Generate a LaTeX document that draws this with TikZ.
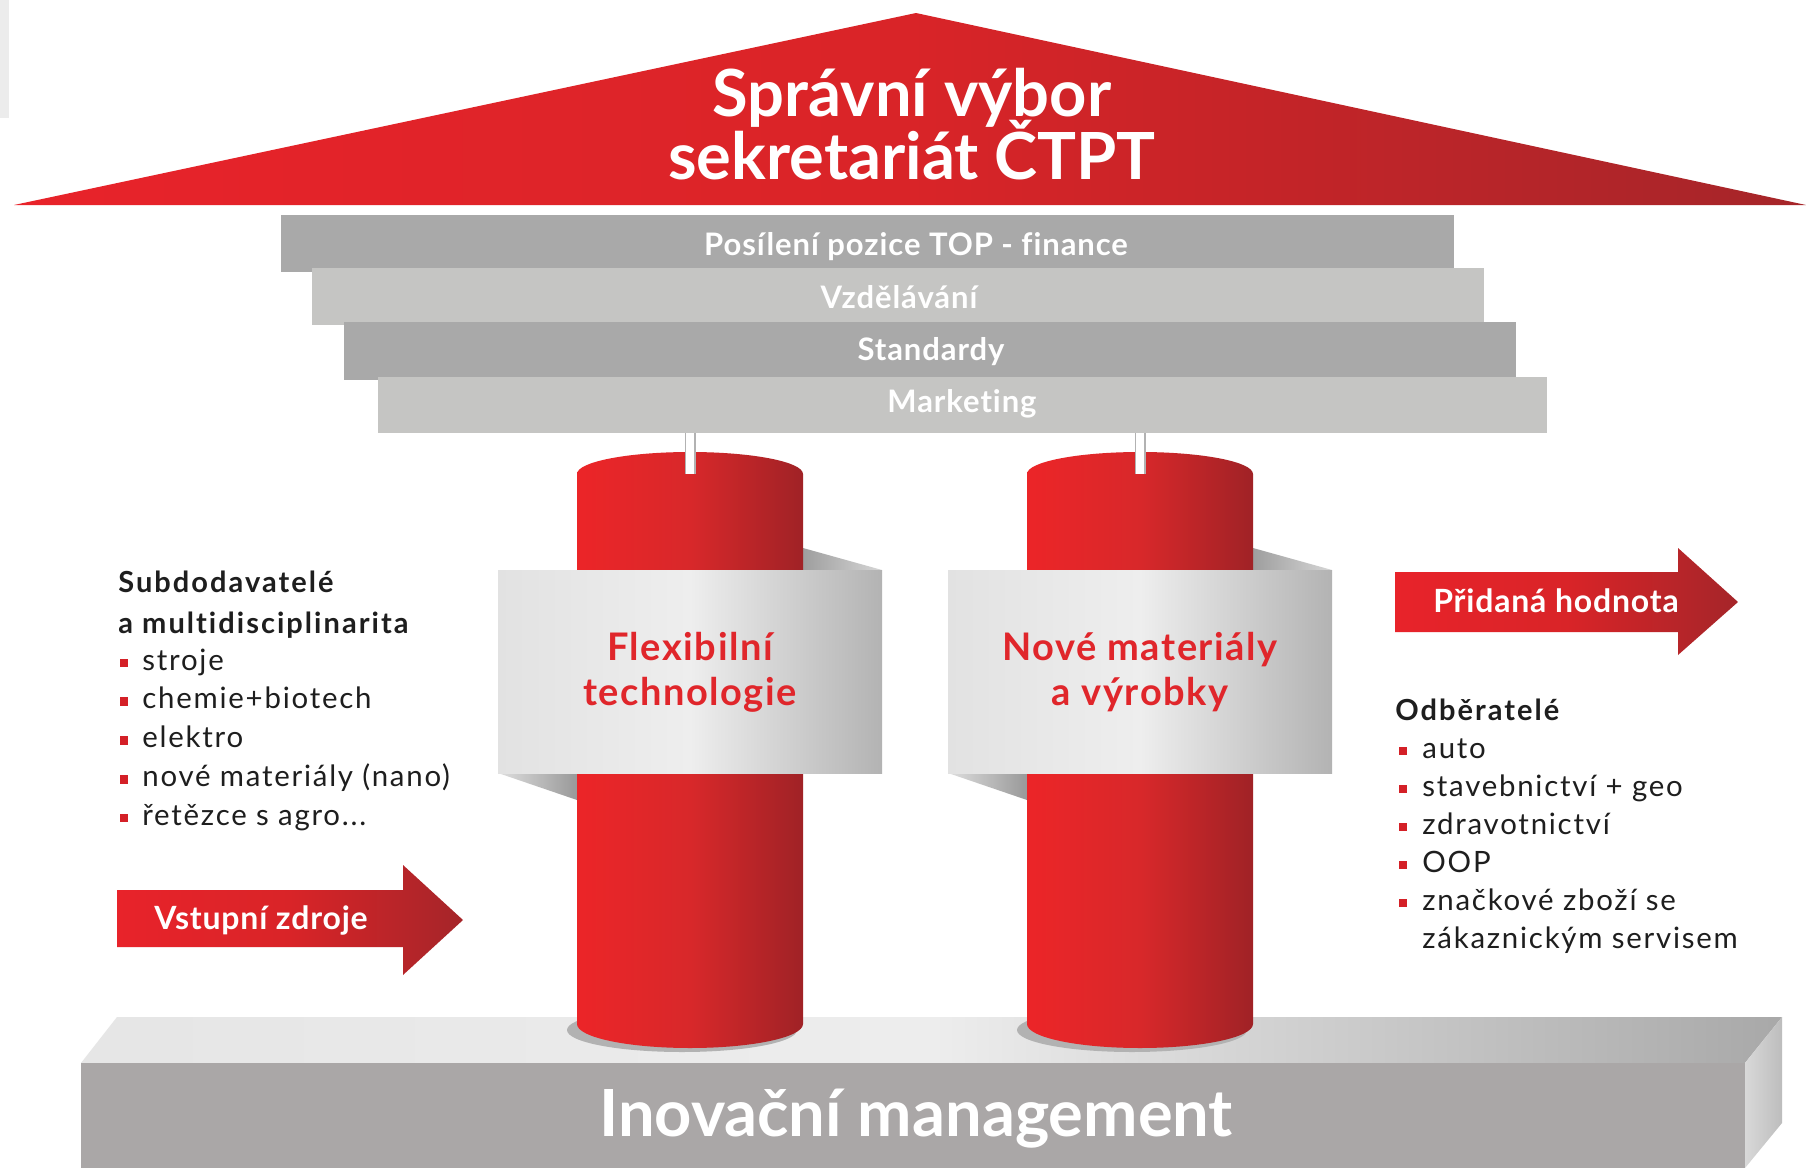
\documentclass[tikz,border=0pt]{standalone}
\usepackage{fontspec}
\setmainfont{Lato}[Ligatures=NoCommon]
\newfontfamily\fTitle{Lato}[Ligatures=NoCommon]
\newfontfamily\fBar{Lato}[Ligatures=NoCommon, LetterSpace=3]
\newfontfamily\fCol{Lato}[Ligatures=NoCommon, LetterSpace=4]
\newfontfamily\fArr{Lato}[Ligatures=NoCommon, LetterSpace=2.5]
\newfontfamily\fList{Lato}[Ligatures=NoCommon, LetterSpace=6]
\newfontfamily\fHead{Lato}[Ligatures=NoCommon, LetterSpace=7]
\definecolor{rA}{HTML}{E8232A}
\definecolor{rB}{HTML}{D92428}
\definecolor{rC}{HTML}{A52529}
\definecolor{cyA}{HTML}{EC2528}
\definecolor{cyB}{HTML}{D8282A}
\definecolor{cyC}{HTML}{A02226}
\definecolor{txtred}{HTML}{E0262B}
\definecolor{bulred}{HTML}{D42027}
\definecolor{barD}{HTML}{A9A9A9}
\definecolor{barL}{HTML}{C5C5C3}
\definecolor{baseF}{HTML}{AAA7A7}
\definecolor{ink}{HTML}{1E1E1E}
\definecolor{bandA}{HTML}{E2E2E2}
\definecolor{bandB}{HTML}{EEEEEE}
\definecolor{bandC}{HTML}{B3B3B3}
\tikzset{
  titletxt/.style={text=white, font=\fTitle\bfseries\fontsize{32.5}{36}\selectfont, anchor=base, inner sep=0pt},
  bartxt/.style={text=white, font=\fBar\bfseries\fontsize{15.5}{17}\selectfont, anchor=base, inner sep=0pt},
  coltxt/.style={text=txtred, font=\fCol\bfseries\fontsize{19}{22}\selectfont, anchor=base, inner sep=0pt},
  arrtxt/.style={text=white, font=\fArr\bfseries\fontsize{16}{18}\selectfont, anchor=base, inner sep=0pt},
  headtxt/.style={text=ink, font=\fHead\bfseries\fontsize{14.5}{16}\selectfont, anchor=base west, inner sep=0pt},
  itemtxt/.style={text=ink, font=\fList\fontsize{14.7}{16}\selectfont, anchor=base west, inner sep=0pt},
  bulsq/.style={rectangle, fill=bulred, minimum size=4.3pt, inner sep=0pt},
  basetxt/.style={text=white, font=\fTitle\bfseries\fontsize{32.5}{36}\selectfont, anchor=base, inner sep=0pt},
  redshade/.style={left color=rA, right color=rC, middle color=rB},
  cylshade/.style={left color=cyA, right color=cyC, middle color=cyB},
  bandshade/.style={left color=bandA, right color=bandC, middle color=bandB}
}
\begin{document}
\begin{tikzpicture}[x=0.5pt,y=-0.5pt]
\useasboundingbox (0,0) rectangle (1806,1168);
\fill[white] (0,0) rectangle (1806,1168);
\fill[gray!15] (0,0) rectangle (9,118);
% roof
\shade[redshade] (14,205) -- (916,13) -- (1806,205) -- cycle;
\node[titletxt] (title1) at (912,116) {Správní výbor};
\node[titletxt] (title2) at (912,179) {sekretariát ČTPT};
% bars
\fill[barD] (281,215) rectangle (1454,272);
\fill[barL] (312,268) rectangle (1484,325);
\fill[barD] (344,322) rectangle (1516,380);
\fill[barL] (378,377) rectangle (1547,433);
\node[bartxt] (bar1) at (916,255) {Posílení pozice TOP - finance};
\node[bartxt] (bar2) at (899,308) {Vzdělávání};
\node[bartxt] (bar3) at (931,360) {Standardy};
\node[bartxt] (bar4) at (962,412) {Marketing};
% base
\shade[left color=black!10, right color=black!34, middle color=black!7] (117,1017) -- (1782,1017) -- (1745,1063) -- (81,1063) -- cycle;
\fill[baseF] (81,1063) rectangle (1745,1168);
\shade[left color=black!15, right color=black!26] (1745,1063) -- (1782,1017) -- (1782,1123) -- (1745,1168) -- cycle;
\node[basetxt] (base) at (916,1136) {Inovační management};
% columns
\foreach \cx/\nm/\la/\lb in {690/A/Flexibilní/technologie, 1140/B/Nové materiály/a výrobky}{
  \fill[black!30] (\cx-8,1030) ellipse[x radius=115, y radius=22];
  \shade[left color=black!38, right color=black!16] (\cx+113,548) -- (\cx+192,570) -- (\cx+113,570) -- cycle;
  \shade[left color=black!13, right color=black!40] (\cx-192,773) -- (\cx-113,800) -- (\cx-113,773) -- cycle;
  \shade[cylshade] (\cx-113,474) -- (\cx-113,1024) arc[start angle=180, end angle=0, x radius=113, y radius=24] -- (\cx+113,474) arc[start angle=0, end angle=-180, x radius=113, y radius=22] -- cycle;
  \shade[bandshade] (\cx-192,570) rectangle (\cx+192,773);
  \coordinate (pin\nm top) at (\cx,433);
  \coordinate (pin\nm bot) at (\cx,474);
  \draw[black!30, line width=5.5pt] (pin\nm top) -- (pin\nm bot);
  \draw[white, line width=4pt] (pin\nm top) -- (pin\nm bot);
  \node[coltxt] (col\nm1) at (\cx,660) {\la};
  \node[coltxt] (col\nm2) at (\cx,705) {\lb};
}
% arrows
\shade[redshade] (117,890) -- (403,890) -- (403,865) -- (463,920) -- (403,975) -- (403,947) -- (117,947) -- cycle;
\node[arrtxt] (inarrow) at (261,929) {Vstupní zdroje};
\shade[redshade] (1395,572) -- (1678,572) -- (1678,548) -- (1738,602) -- (1678,655) -- (1678,632) -- (1395,632) -- cycle;
\node[arrtxt] (outarrow) at (1556,612) {Přidaná hodnota};
% left list
\node[headtxt] (sub1) at (118,592) {Subdodavatelé};
\node[headtxt] (sub2) at (118,633) {a multidisciplinarita};
\foreach \t [count=\i] in {stroje, chemie+biotech, elektro, nové materiály (nano)}{
  \pgfmathsetmacro\yy{670+38.75*(\i-1)}
  \node[bulsq] (lb\i) at (124,\yy-7) {};
  \node[itemtxt] (li\i) at (142,\yy) {\t};
}
\node[bulsq] (lb5) at (124,818) {};
\node[itemtxt] (li5) at (142,825) {řetězce s agro...};
% right list
\node[headtxt] (odb) at (1395,720) {Odběratelé};
\foreach \t [count=\i] in {auto, stavebnictví + geo, zdravotnictví, OOP, značkové zboží se}{
  \pgfmathsetmacro\yy{758+38*(\i-1)}
  \node[bulsq] (rb\i) at (1403,\yy-7) {};
  \node[itemtxt] (ri\i) at (1422,\yy) {\t};
}
\node[itemtxt] (ri6) at (1422,948) {zákaznickým servisem};
\end{tikzpicture}
\end{document}
